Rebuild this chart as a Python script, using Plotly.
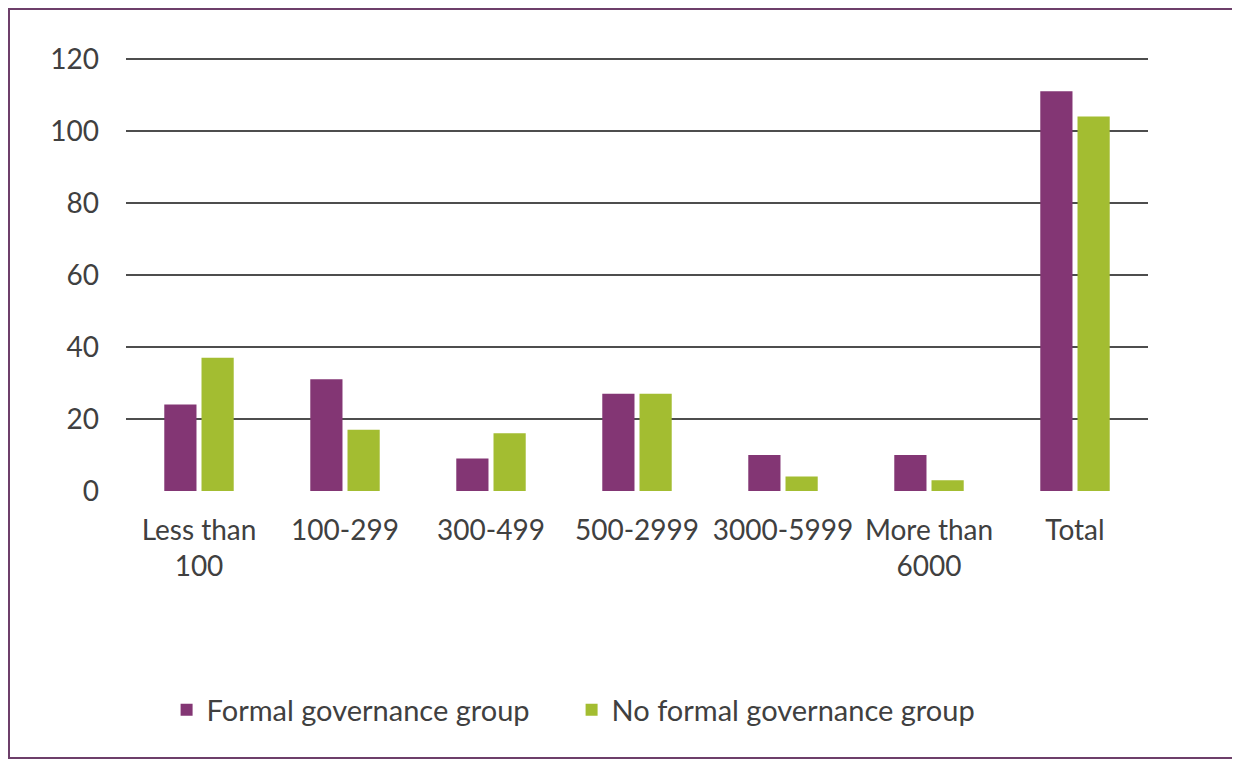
import plotly.graph_objs as go

# Values
categories = ["Less than<br>100", "100-299", "300-499", "500-2999",
              "3000-5999", "More than<br>6000", "Total"]
formal_group = [24, 31, 9, 27, 10, 10, 111]
no_formal_group = [37, 17, 16, 27, 4, 3, 104]
y_ticks = [0, 20, 40, 60, 80, 100, 120]

purple = "#833674"
green = "#a3bd31"
text_col = "#404040"

fig = go.Figure()
fig.add_trace(go.Bar(x=categories, y=formal_group, name="Formal governance group",
                     marker=dict(color=purple, line=dict(width=0))))
fig.add_trace(go.Bar(x=categories, y=no_formal_group, name="No formal governance group",
                     marker=dict(color=green, line=dict(width=0))))

# page body adds an 8px offset, so the figure is a bit smaller than the window
W, H = 1232, 756
l, r, t, b = 118, 92, 49, 273
pw, ph = W - l - r, H - t - b

# outer frame round the whole picture (paper units relative to plot area)
fig.add_shape(type="rect", xref="paper", yref="paper",
              x0=(1 - l) / pw, x1=(1225 - l) / pw,
              y0=(H - b - 750) / ph, y1=(H - b - 1) / ph,
              line=dict(color="#6d3f6a", width=2), fillcolor="rgba(0,0,0,0)")

fig.update_layout(
    width=W, height=H,
    margin=dict(l=l, r=r, t=t, b=b),
    paper_bgcolor="white", plot_bgcolor="white",
    barmode="group", bargap=0.49, bargroupgap=0.135,
    font=dict(family="Lato, Open Sans, sans-serif", size=28, color=text_col),
    showlegend=True,
    legend=dict(orientation="h", x=0.436, xanchor="center", y=(483 - 702) / ph,
                yanchor="middle", font=dict(size=29, color=text_col), itemwidth=30,
                traceorder="normal", entrywidth=360),
    xaxis=dict(showgrid=False, showline=False, ticks="", tickfont=dict(size=28),
               ticklabelstandoff=20),
    # top of range a touch above 120 so the 120 gridline is drawn
    yaxis=dict(range=[0, 120.5], tickvals=y_ticks, showgrid=True, gridcolor="#4d4d4d",
               gridwidth=2, zeroline=True, zerolinecolor="white", zerolinewidth=1,
               showline=False, ticks="", ticklabelstandoff=26, tickfont=dict(size=28)),
)

fig.write_html("out.html")
